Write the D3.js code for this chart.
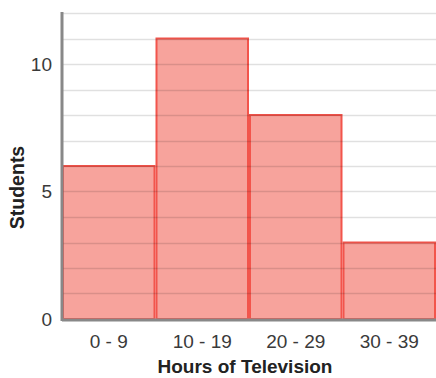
<!DOCTYPE html>
<html><head><meta charset="utf-8">
<script src="https://cdn.jsdelivr.net/npm/d3@7"></script>
<style>body{margin:0;background:#fff}svg{display:block;font-family:"Liberation Sans",Arial,sans-serif}</style>
</head><body><svg id="c" width="436" height="378"></svg>
<script>
const categories = ["0 - 9", "10 - 19", "20 - 29", "30 - 39"];
const students = [6, 11, 8, 3];
const yTicks = [0, 5, 10];
const gridValues = d3.range(1, 13);

const svg = d3.select("#c");
const m = {l: 62, r: 0, t: 13, b: 59};
const W = 436, H = 378;
const x = d3.scaleBand().domain(categories).range([m.l, W - m.r]).padding(0);
const y = d3.scaleLinear().domain([0, 12]).range([H - m.b, m.t]);

svg.append("g").selectAll("rect").data(students).join("rect")
  .attr("x", (d, i) => x(categories[i]) + 1)
  .attr("y", d => y(d))
  .attr("width", x.bandwidth() - 2)
  .attr("height", d => y(0) - y(d))
  .attr("fill", "#f7a39c")
  .attr("stroke", "#f2554c")
  .attr("stroke-width", 2);

svg.append("g").selectAll("line").data(gridValues).join("line")
  .attr("x1", m.l).attr("x2", W - m.r)
  .attr("y1", d => Math.round(y(d)) + 0.5).attr("y2", d => Math.round(y(d)) + 0.5)
  .attr("stroke", "#000").attr("stroke-opacity", 0.12).attr("stroke-width", 1.5);

// axes lines
svg.append("line").attr("x1", m.l).attr("x2", m.l).attr("y1", m.t - 1).attr("y2", y(0) + 2)
  .attr("stroke", "#888").attr("stroke-width", 3);
svg.append("line").attr("x1", m.l).attr("x2", W).attr("y1", y(0) + 1).attr("y2", y(0) + 1)
  .attr("stroke", "#888").attr("stroke-width", 3);

const yAxis = svg.append("g").attr("transform", `translate(${m.l - 10},0)`)
  .call(d3.axisLeft(y).tickValues(yTicks).tickSize(0).tickPadding(0));
yAxis.select(".domain").remove();
yAxis.selectAll("text").attr("font-size", 19).attr("fill", "#3a3a3a").attr("font-family", "Liberation Sans, Arial, sans-serif");

const xAxis = svg.append("g").attr("transform", `translate(0,${y(0) + 15})`)
  .call(d3.axisBottom(x).tickSize(0).tickPadding(0));
xAxis.select(".domain").remove();
xAxis.selectAll("text").attr("font-size", 19).attr("fill", "#3a3a3a").attr("dy", "0.71em").attr("font-family", "Liberation Sans, Arial, sans-serif");

svg.append("text").attr("x", 245).attr("y", 373)
  .attr("text-anchor", "middle").attr("font-size", 19).attr("font-weight", "bold").attr("fill", "#222")
  .text("Hours of Television");
svg.append("text").attr("transform", `translate(24,187.5) rotate(-90)`)
  .attr("text-anchor", "middle").attr("font-size", 19.5).attr("font-weight", "bold").attr("fill", "#222")
  .text("Students");
</script></body></html>
